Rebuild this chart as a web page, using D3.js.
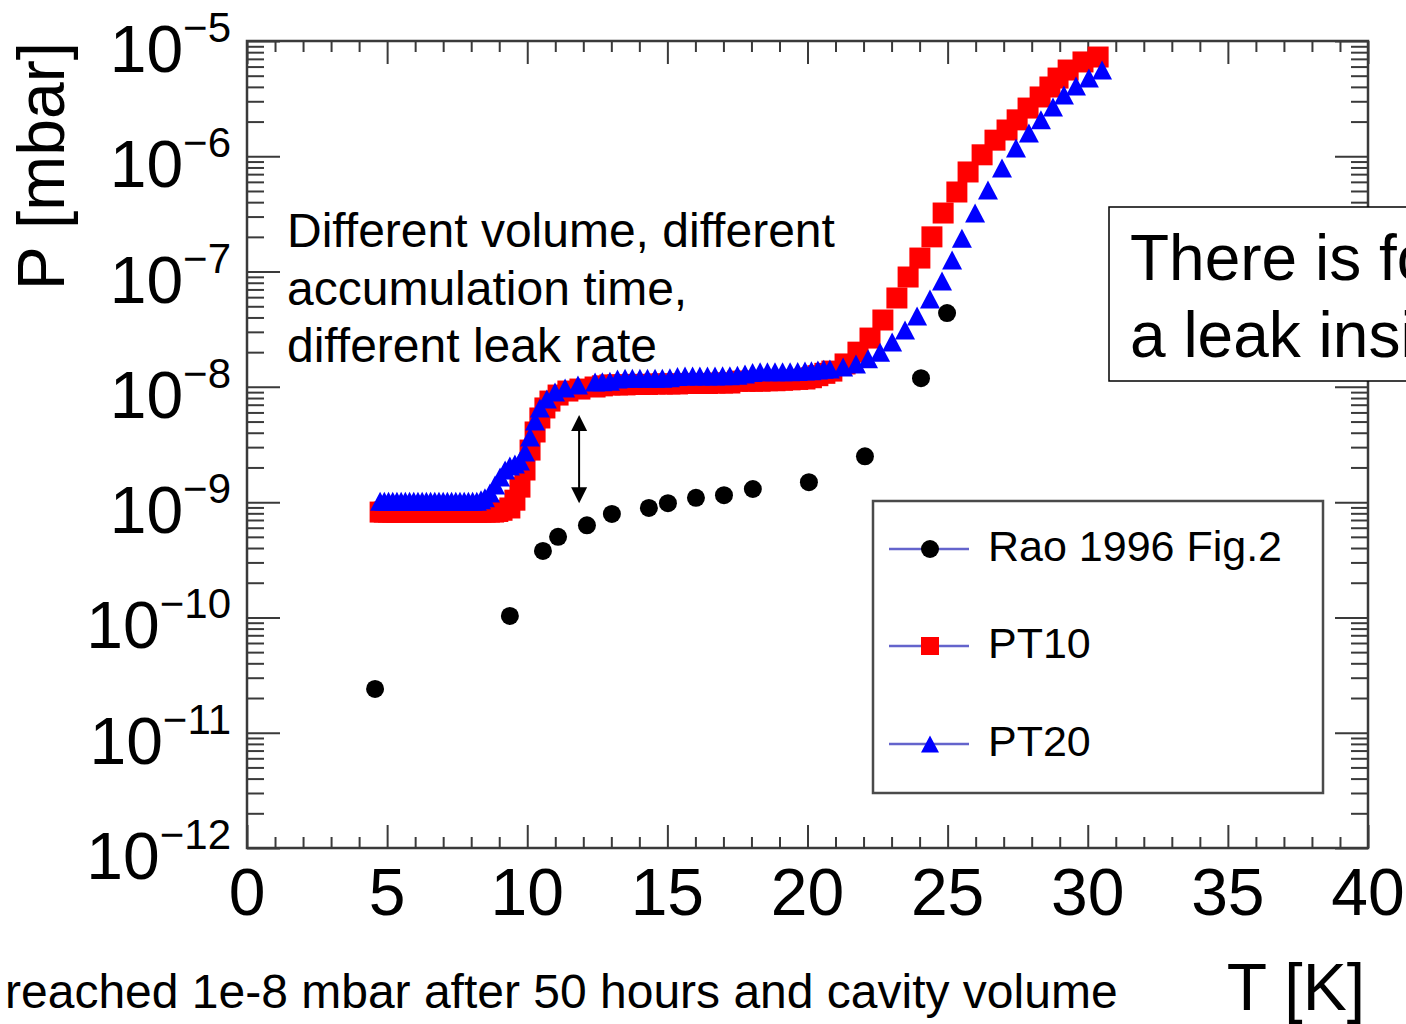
<!DOCTYPE html>
<html><head><meta charset="utf-8">
<script src="https://cdn.jsdelivr.net/npm/d3@7"></script>
<style>
body{margin:0;background:#fff}
svg{display:block}
text{font-family:"Liberation Sans",Arial,Helvetica,sans-serif;fill:#000}
</style>
</head><body>
<svg id="c" width="1406" height="1024"></svg>
<script>
// ---------- data ----------
const raoT = [4.57,9.38,10.56,11.10,12.13,13.02,14.34,15.02,16.02,17.02,18.05,20.05,22.05,24.05,24.98];
const raoP = [2.4e-11,1.03e-10,3.77e-10,5.0e-10,6.3e-10,7.9e-10,8.9e-10,9.8e-10,1.09e-9,1.15e-9,1.30e-9,1.49e-9,2.5e-9,1.19e-8,4.37e-8];

const pt10T = [4.75,4.90,5.05,5.20,5.35,5.50,5.65,5.80,5.95,6.10,6.25,6.40,6.55,6.70,6.85,7.00,7.15,7.30,7.45,7.60,7.75,7.90,8.05,8.20,8.35,8.50,8.65,8.80,8.95,9.10,
  9.38,9.56,9.74,9.92,10.10,10.28,10.45,10.63,10.81,11.10,11.45,11.88,12.42,
  12.68,12.95,13.22,13.49,13.75,14.02,14.29,14.56,14.82,15.09,15.36,15.63,15.90,16.16,16.43,16.70,16.97,17.23,17.50,17.77,18.04,18.31,18.57,18.84,19.11,19.38,19.65,19.91,20.14,20.37,20.62,
  20.87,21.34,21.80,22.23,22.69,23.19,23.59,24.01,24.44,24.84,25.33,25.73,26.23,26.69,27.12,27.48,27.87,28.30,28.65,28.94,29.30,29.83,30.37];
const pt10P = [8.2e-10,8.2e-10,8.2e-10,8.2e-10,8.2e-10,8.2e-10,8.2e-10,8.2e-10,8.2e-10,8.2e-10,8.2e-10,8.2e-10,8.2e-10,8.2e-10,8.2e-10,
  8.2e-10,8.2e-10,8.2e-10,8.2e-10,8.2e-10,8.2e-10,8.2e-10,8.2e-10,8.2e-10,8.2e-10,8.2e-10,8.2e-10,8.2e-10,8.3e-10,8.5e-10,
  8.9e-10,1.04e-9,1.35e-9,1.90e-9,2.83e-9,4.06e-9,5.37e-9,6.56e-9,7.53e-9,8.49e-9,9.2e-9,9.57e-9,9.97e-9,
  1.02e-8,1.04e-8,1.04e-8,1.04e-8,1.05e-8,1.05e-8,1.05e-8,1.06e-8,1.06e-8,1.06e-8,1.06e-8,1.07e-8,1.07e-8,1.07e-8,1.07e-8,1.08e-8,
  1.08e-8,1.08e-8,1.12e-8,1.12e-8,1.12e-8,1.12e-8,1.13e-8,1.13e-8,1.14e-8,1.15e-8,1.16e-8,1.17e-8,1.20e-8,1.25e-8,1.31e-8,
  1.37e-8,1.58e-8,2.00e-8,2.65e-8,3.80e-8,5.90e-8,8.97e-8,1.31e-7,2.00e-7,3.22e-7,4.90e-7,7.31e-7,1.03e-6,1.38e-6,1.69e-6,2.07e-6,2.62e-6,3.27e-6,3.99e-6,4.77e-6,5.60e-6,6.58e-6,7.26e-6];

const pt20T = [4.75,4.90,5.05,5.20,5.35,5.50,5.65,5.80,5.95,6.10,6.25,6.40,6.55,6.70,6.85,7.00,7.15,7.30,7.45,7.60,7.75,7.90,8.05,8.20,8.35,
  8.49,8.67,8.85,9.03,9.21,9.38,9.56,9.74,9.92,10.10,10.28,10.45,10.70,10.99,11.35,11.81,12.42,
  12.68,12.95,13.22,13.49,13.75,14.02,14.29,14.56,14.82,15.09,15.36,15.63,15.90,16.16,16.43,16.70,16.97,17.23,17.50,17.77,18.04,18.31,18.57,18.84,19.11,19.38,19.65,19.91,20.14,20.37,20.58,
  20.80,21.27,21.73,22.16,22.59,23.02,23.48,23.91,24.37,24.80,25.16,25.51,25.98,26.44,26.94,27.44,27.90,28.33,28.76,29.15,29.58,30.04,30.51];
const pt20P = [1.02e-9,1.02e-9,1.02e-9,1.02e-9,1.02e-9,1.02e-9,1.02e-9,1.02e-9,1.02e-9,1.02e-9,1.02e-9,1.02e-9,
  1.02e-9,1.02e-9,1.02e-9,1.02e-9,1.02e-9,1.02e-9,1.02e-9,1.02e-9,1.02e-9,1.02e-9,1.02e-9,1.02e-9,1.05e-9,
  1.09e-9,1.20e-9,1.41e-9,1.65e-9,1.90e-9,2.06e-9,2.14e-9,2.28e-9,2.72e-9,3.67e-9,5.06e-9,6.56e-9,7.85e-9,9.02e-9,9.77e-9,1.04e-8,1.10e-8,
  1.11e-8,1.12e-8,1.17e-8,1.19e-8,1.19e-8,1.19e-8,1.19e-8,1.19e-8,1.19e-8,1.20e-8,1.23e-8,1.24e-8,1.24e-8,1.24e-8,1.24e-8,1.24e-8,
  1.25e-8,1.25e-8,1.26e-8,1.29e-8,1.33e-8,1.35e-8,1.35e-8,1.35e-8,1.35e-8,1.35e-8,1.36e-8,1.37e-8,1.38e-8,1.40e-8,1.42e-8,
  1.43e-8,1.49e-8,1.58e-8,1.75e-8,2.00e-8,2.45e-8,3.11e-8,4.12e-8,5.78e-8,8.28e-8,1.26e-7,1.95e-7,3.22e-7,5.11e-7,7.91e-7,1.18e-6,1.59e-6,2.07e-6,2.68e-6,3.40e-6,4.07e-6,4.77e-6,5.60e-6];

const xTickValues = [0,5,10,15,20,25,30,35,40];
const xTickLabels = ["0","5","10","15","20","25","30","35","40"];
const yExponents = [-12,-11,-10,-9,-8,-7,-6,-5];
const legendLabels = ["Rao 1996 Fig.2","PT10","PT20"];
const noteLines = ["Different volume, different","accumulation time,","different leak rate"];
const boxLines = ["There is fo","a leak insi"];
const footText = "reached 1e-8 mbar after 50 hours and cavity volume";
const arrowT = 11.85, arrowP = [9.8e-10, 5.7e-9];

// ---------- layout ----------
const L=247, R=1368, T=41, B=848;
const svg = d3.select("#c");
const x = d3.scaleLinear().domain([0,40]).range([L,R]);
const y = d3.scaleLog().domain([1e-12,1e-5]).range([B,T]);
const FONT = 66;
const axisCol = "#3a3a3a";

const xMinor = [];
for (let v=0; v<=40; v++) if (v%5) xMinor.push(v);
const yMajor = yExponents.map(e => Math.pow(10,e));
const yMinor = [];
for (let e=-12; e<-5; e++) for (let k=2; k<=9; k++) yMinor.push(k*Math.pow(10,e));

function styleAxis(g, w){
  g.select(".domain").remove();
  g.selectAll("line").attr("stroke",axisCol).attr("stroke-width",w);
  g.selectAll("text").remove();
}
function addAxis(axisFn, scale, vals, size, tr){
  svg.append("g").attr("transform",tr)
    .call(axisFn(scale).tickValues(vals).tickSizeInner(-size).tickSizeOuter(0).tickFormat(""))
    .call(g=>styleAxis(g,2));
}
addAxis(d3.axisBottom, x, xTickValues, 23, `translate(0,${B})`);
addAxis(d3.axisBottom, x, xMinor, 11, `translate(0,${B})`);
addAxis(d3.axisTop, x, xTickValues, 23, `translate(0,${T})`);
addAxis(d3.axisTop, x, xMinor, 11, `translate(0,${T})`);
addAxis(d3.axisLeft, y, yMajor, 33, `translate(${L},0)`);
addAxis(d3.axisLeft, y, yMinor, 17, `translate(${L},0)`);
addAxis(d3.axisRight, y, yMajor, 33, `translate(${R},0)`);
addAxis(d3.axisRight, y, yMinor, 17, `translate(${R},0)`);

// frame
svg.append("rect").attr("x",L).attr("y",T).attr("width",R-L).attr("height",B-T)
  .attr("fill","none").attr("stroke",axisCol).attr("stroke-width",2.5);

// x tick labels
svg.append("g").selectAll("text").data(xTickValues).join("text")
  .attr("x",d=>x(d)).attr("y",915).attr("text-anchor","middle")
  .attr("font-size",FONT).text((d,i)=>xTickLabels[i]);

// y tick labels
const yl = svg.append("g").selectAll("text").data(yExponents).join("text")
  .attr("x",231).attr("y",e=>y(Math.pow(10,e))+31).attr("text-anchor","end");
yl.append("tspan").attr("font-size",FONT).text("10");
yl.append("tspan").attr("font-size",42).attr("dy",-30).text(e=>"\u2212"+Math.abs(e));

// axis titles
svg.append("text").attr("transform",`translate(64,42) rotate(-90)`)
  .attr("text-anchor","end").attr("font-size",FONT).text("P [mbar]");
svg.append("text").attr("x",1365).attr("y",1010).attr("text-anchor","end")
  .attr("font-size",FONT).text("T [K]");

// data
const red = pt10T.map((t,i)=>({t, p:pt10P[i]}));
const blue = pt20T.map((t,i)=>({t, p:pt20P[i]}));
const rao = raoT.map((t,i)=>({t, p:raoP[i]}));
const SQ=21, TW=20, TH=19;
svg.append("g").selectAll("rect").data(red).join("rect")
  .attr("x",d=>x(d.t)-SQ/2).attr("y",d=>y(d.p)-SQ/2).attr("width",SQ).attr("height",SQ)
  .attr("fill","#ff0000");
const triPath = (cx,cy,w,h)=>`M${cx},${cy-h/2}L${cx+w/2},${cy+h/2}L${cx-w/2},${cy+h/2}Z`;
svg.append("g").selectAll("path").data(blue).join("path")
  .attr("d",d=>triPath(x(d.t),y(d.p),TW,TH)).attr("fill","#0000ff");
svg.append("g").selectAll("circle").data(rao).join("circle")
  .attr("cx",d=>x(d.t)).attr("cy",d=>y(d.p)).attr("r",9).attr("fill","#000");

// double arrow
const ax = x(arrowT), ay1 = y(arrowP[0]), ay2 = y(arrowP[1]);
svg.append("line").attr("x1",ax).attr("x2",ax).attr("y1",ay1-12).attr("y2",ay2+12)
  .attr("stroke","#000").attr("stroke-width",2);
svg.append("path").attr("d",`M${ax},${ay2}L${ax+8},${ay2+16}L${ax-8},${ay2+16}Z`).attr("fill","#000");
svg.append("path").attr("d",`M${ax},${ay1}L${ax+8},${ay1-16}L${ax-8},${ay1-16}Z`).attr("fill","#000");

// annotation text
svg.append("g").selectAll("text").data(noteLines).join("text")
  .attr("x",287).attr("y",(d,i)=>247+i*57.5).attr("font-size",48).text(d=>d);

// legend
const lg = svg.append("g");
lg.append("rect").attr("x",873).attr("y",501).attr("width",450).attr("height",292)
  .attr("fill","#fff").attr("stroke","#4a4a4a").attr("stroke-width",2.5);
const rowsY = [549,646,744];
legendLabels.forEach((lab,i)=>{
  const cy = rowsY[i];
  lg.append("line").attr("x1",889).attr("x2",969).attr("y1",cy).attr("y2",cy)
    .attr("stroke","#6464cc").attr("stroke-width",2.5);
  if (i===0) lg.append("circle").attr("cx",930).attr("cy",cy).attr("r",9).attr("fill","#000");
  if (i===1) lg.append("rect").attr("x",921).attr("y",cy-9).attr("width",18).attr("height",18).attr("fill","#ff0000");
  if (i===2) lg.append("path").attr("d",triPath(930,cy,18,17)).attr("fill","#0000ff");
  lg.append("text").attr("x",988).attr("y",cy+12).attr("font-size",43).text(lab);
});

// right box (cut by the page edge, as in the reference)
svg.append("rect").attr("x",1109).attr("y",207).attr("width",330).attr("height",174)
  .attr("fill","#fff").attr("stroke","#000").attr("stroke-width",1.5);
svg.append("g").selectAll("text").data(boxLines).join("text")
  .attr("x",1130).attr("y",(d,i)=>280+i*77).attr("font-size",64).text(d=>d);

// footer
svg.append("text").attr("x",5).attr("y",1008).attr("font-size",48).text(footText);
</script>
</body></html>
